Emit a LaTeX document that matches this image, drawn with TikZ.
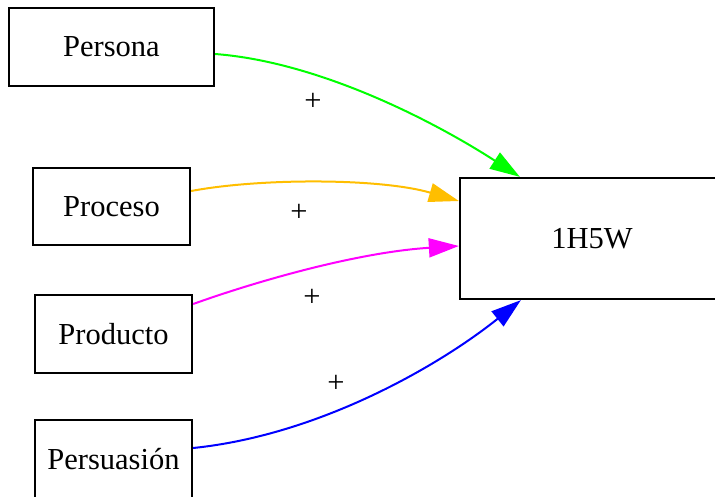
\documentclass[tikz,border=0pt]{standalone}
\usepackage{fontspec}
\setmainfont{Liberation Serif}
\usetikzlibrary{arrows.meta,calc}
\definecolor{edgegreen}{RGB}{0,255,0}
\definecolor{edgeorange}{RGB}{255,190,0}
\definecolor{edgemagenta}{RGB}{255,0,255}
\definecolor{edgeblue}{RGB}{0,0,255}
\begin{document}
\begin{tikzpicture}[x=1pt,y=-1pt,
  box/.style={draw=black,line width=2.3pt,fill=white,inner sep=0pt,
    font=\fontsize{30.5}{36}\selectfont},
  link/.style={line width=2pt,-{Triangle[length=30pt,width=19pt]}},
  plus/.style={font=\fontsize{30.5}{36}\selectfont,inner sep=0pt}]
\useasboundingbox (0,0) rectangle (715,496);
% source boxes
\node[box,minimum width=205pt,minimum height=78pt] (persona) at (111.5,47) {Persona};
\node[box,minimum width=157pt,minimum height=77pt] (proceso) at (111.5,206.5) {Proceso};
\node[box,minimum width=157pt,minimum height=78pt] (producto) at (113.5,334) {Producto};
\node[box,minimum width=157pt,minimum height=78pt] (persuasion) at (113.5,459) {Persuasión};
% target box
\node[box,minimum width=264pt,minimum height=121pt] (target) at (592,238.5) {1H5W};
% connectors
\draw[link,edgegreen] ($(persona.east)+(0,7)$) .. controls (320,62) and (435,122) .. ($(target.north west)+(61,0)$);
\draw[link,edgeorange] ($(proceso.east)+(0,-15.5)$) .. controls (260,178) and (380,178) .. ($(target.west)+(0,-37.5)$);
\draw[link,edgemagenta] ($(producto.east)+(0,-30)$) .. controls (260,280) and (360,252) .. ($(target.west)+(0,7.5)$);
\draw[link,edgeblue] ($(persuasion.east)+(0,-11)$) .. controls (320,435) and (440,365) .. ($(target.south west)+(62,0)$);
% edge labels
\node[plus] (l1) at (313,102) {+};
\node[plus] (l2) at (299,213) {+};
\node[plus] (l3) at (312,298) {+};
\node[plus] (l4) at (336,384) {+};
\end{tikzpicture}
\end{document}
